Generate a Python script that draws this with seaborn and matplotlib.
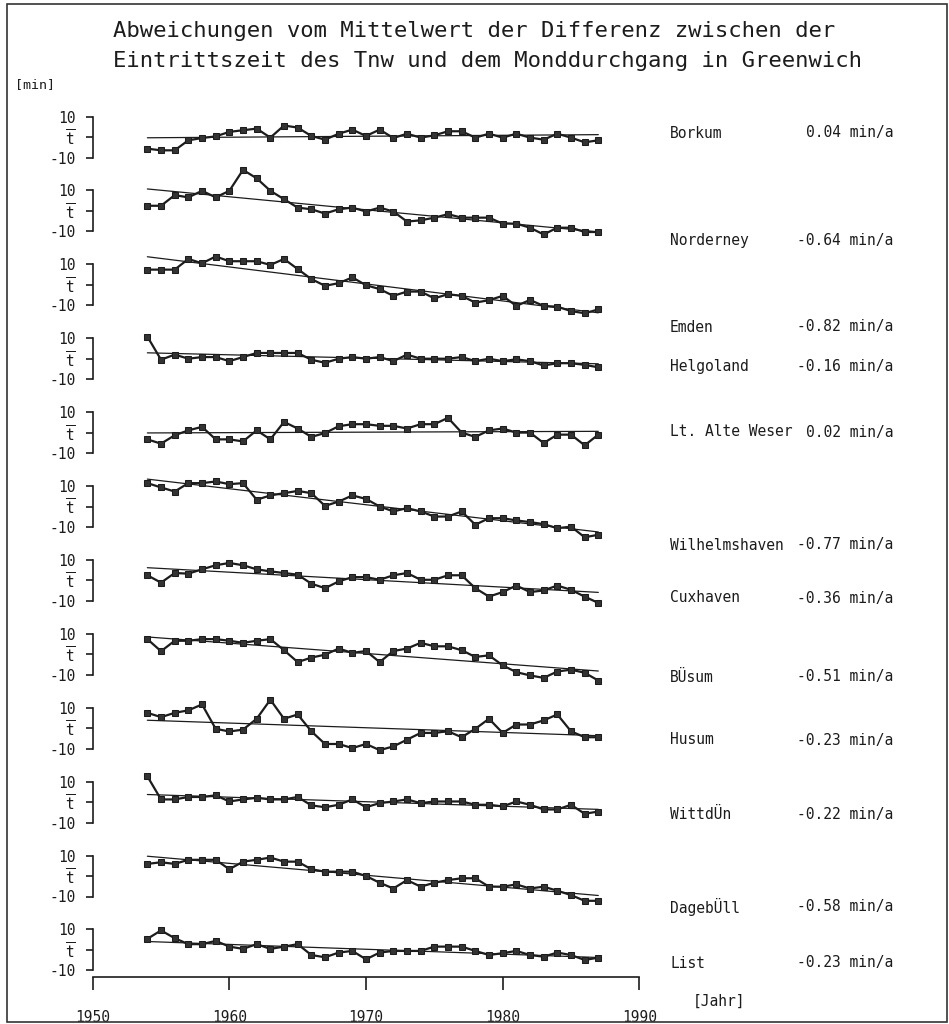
import numpy as np
import pandas as pd
import matplotlib
matplotlib.use("Agg")
import matplotlib.pyplot as plt
import seaborn as sns
from matplotlib.patches import Rectangle

# ---------------- data ----------------
years = list(range(1954, 1988))

borkum = [-5.7, -6.5, -6.5, -1.6, -0.5, 0.3, 2.5, 3.3, 4.1, -0.3, 5.6, 4.6, 0.5, -1.3, 1.6, 3.6, 0.5,
          3.6, -0.5, 1.6, -0.3, 0.8, 2.8, 2.8, -0.3, 1.6, -0.3, 1.6, -0.3, -1.3, 1.6, -0.3, -2.6, -1.6]
norderney = [2.5, 2.5, 7.7, 6.6, 9.8, 6.6, 9.8, 20.0, 15.9, 9.8, 5.7, 1.6, 0.8, -1.3, 0.8, 1.6, -0.3,
             1.6, -0.3, -5.2, -4.6, -3.3, -1.6, -3.3, -3.3, -3.3, -6.2, -6.2, -8.2, -11.5, -8.2, -8.2, -10.3, -10.3]
emden = [7.4, 7.4, 7.4, 12.6, 10.5, 13.8, 11.5, 11.5, 11.5, 9.7, 12.6, 7.7, 2.8, -0.5, 0.8, 3.6, -0.2,
         -2.1, -5.4, -3.3, -3.3, -6.6, -4.6, -5.4, -8.7, -7.5, -5.4, -10.3, -7.4, -10.3, -10.7, -12.8, -13.9, -12.0]
helgoland = [10.8, -0.5, 2.0, 0.0, 0.8, 0.8, -1.2, 0.8, 2.8, 2.8, 2.8, 2.8, -0.5, -2.0, 0.0, 0.8, 0.0,
             0.8, -1.2, 2.0, 0.0, 0.0, 0.0, 0.8, -1.2, 0.0, -1.2, -0.3, -1.2, -3.3, -2.2, -2.2, -3.0, -4.2]
alte_weser = [-3.3, -5.4, -1.3, 1.1, 2.8, -3.3, -3.3, -4.3, 1.1, -3.3, 5.2, 2.0, -2.1, -0.2, 3.1, 4.1, 4.1,
              3.3, 3.3, 2.0, 4.1, 4.1, 7.2, 0.0, -2.1, 1.1, 2.0, 0.0, 0.0, -5.1, -1.0, -1.0, -6.2, -1.0]
wilhelmshaven = [11.4, 9.3, 7.3, 11.4, 11.4, 12.2, 10.9, 11.4, 3.3, 5.4, 6.5, 7.6, 6.5, 0.3, 2.4, 5.4, 3.7,
                 0.0, -2.4, -0.8, -2.4, -4.9, -4.9, -2.4, -8.9, -5.7, -5.7, -6.8, -7.6, -8.6, -10.6, -9.8, -15.0, -13.8]
cuxhaven = [2.5, -1.1, 3.6, 3.3, 5.4, 7.4, 8.5, 7.4, 5.4, 4.4, 3.6, 2.8, -1.6, -3.8, -0.5, 1.6, 1.6,
            0.3, 2.5, 3.6, 0.3, 0.3, 2.5, 2.5, -3.8, -7.9, -5.7, -2.5, -5.7, -4.9, -2.5, -4.6, -7.9, -11.0]
buesum = [7.4, 1.5, 6.6, 6.6, 7.4, 7.4, 6.6, 5.6, 6.6, 7.4, 2.0, -3.8, -1.6, -0.2, 2.8, 0.7, 1.6,
          -3.8, 1.6, 2.8, 5.6, 3.9, 3.9, 2.0, -1.3, -0.5, -5.4, -8.7, -10.3, -11.5, -8.4, -7.5, -9.0, -12.8]
husum = [7.5, 5.4, 7.5, 8.7, 11.6, -0.3, -1.6, -0.7, 4.6, 13.9, 4.6, 6.7, -1.5, -7.7, -7.7, -9.7, -7.7,
         -10.7, -8.9, -5.6, -2.3, -2.3, -1.5, -4.4, -0.3, 4.6, -2.3, 1.8, 1.8, 3.8, 6.7, -1.5, -4.4, -4.4]
wittduen = [12.6, 1.3, 1.3, 2.5, 2.5, 3.3, 0.3, 1.3, 2.1, 1.3, 1.3, 2.5, -1.6, -2.5, -1.3, 1.3, -2.5,
            -0.5, 0.3, 1.3, -0.5, 0.3, 0.3, 0.3, -1.3, -1.3, -2.1, 0.3, -1.3, -3.6, -3.6, -1.3, -5.7, -4.6]
dagebuell = [5.9, 6.7, 5.9, 7.9, 7.9, 7.9, 3.3, 7.0, 7.9, 9.0, 7.0, 7.0, 3.3, 2.1, 2.1, 2.1, 0.0,
             -3.3, -6.1, -2.0, -5.2, -3.3, -2.0, -1.1, -1.1, -5.2, -5.2, -4.1, -6.1, -5.2, -7.2, -9.3, -12.1, -12.1]
list_sylt = [5.4, 9.5, 5.7, 2.8, 2.8, 4.4, 1.6, 0.5, 2.8, 0.5, 1.6, 2.8, -2.5, -3.6, -1.3, -0.5, -4.6,
             -1.3, -0.5, -0.5, -0.5, 1.6, 1.6, 1.6, -0.5, -2.5, -1.6, -0.5, -2.5, -3.3, -1.3, -2.5, -4.9, -3.8]

series = [borkum, norderney, emden, helgoland, alte_weser, wilhelmshaven,
          cuxhaven, buesum, husum, wittduen, dagebuell, list_sylt]
stations = ["Borkum", "Norderney", "Emden", "Helgoland", "Lt. Alte Weser", "Wilhelmshaven",
            "Cuxhaven", "BÜsum", "Husum", "WittdÜn", "DagebÜll", "List"]
rates = ["0.04 min/a", "-0.64 min/a", "-0.82 min/a", "-0.16 min/a", "0.02 min/a", "-0.77 min/a",
         "-0.36 min/a", "-0.51 min/a", "-0.23 min/a", "-0.22 min/a", "-0.58 min/a", "-0.23 min/a"]
ytick_vals = [-10, 0, 10]
ytick_labels = ["-10", r"$\overline{\mathtt{t}}$", "10"]
xtick_vals = [1950, 1960, 1970, 1980, 1990]
title_lines = ["Abweichungen vom Mittelwert der Differenz zwischen der",
               "Eintrittszeit des Tnw und dem Monddurchgang in Greenwich"]

# ---------------- layout (pixels) ----------------
W, H = 949, 1024
X0_PX, X1_PX = 92.7, 639.3
C0_PX, SPACING_PX, PX_PER_UNIT = 137.0, 73.9, 2.05
AXIS_PX = 976.5
label_y_px = [133, 240, 327, 367, 432, 545, 598, 677, 740, 814, 907, 963]
INK = "#1c1c1c"

sns.set_style("white")
plt.rcParams["font.family"] = ["DejaVu Sans Mono", "DejaVu Sans"]
plt.rcParams["mathtext.fontset"] = "dejavusans"

fig = plt.figure(figsize=(W / 100, H / 100), dpi=100)
fig.patch.set_facecolor("white")

half_units = SPACING_PX / 2 / PX_PER_UNIT
n = len(series)
axes = []
for k, vals in enumerate(series):
    c = C0_PX + k * SPACING_PX
    top = c - SPACING_PX / 2
    bot = AXIS_PX if k == n - 1 else c + SPACING_PX / 2
    ax = fig.add_axes([X0_PX / W, 1 - bot / H, (X1_PX - X0_PX) / W, (bot - top) / H])
    ax.set_facecolor("none")
    df = pd.DataFrame({"Jahr": years, "Abw": vals})
    sns.regplot(data=df, x="Jahr", y="Abw", ax=ax, scatter=False, ci=None, truncate=True,
                line_kws=dict(color=INK, lw=0.9, clip_on=False))
    sns.lineplot(data=df, x="Jahr", y="Abw", ax=ax, color=INK, lw=1.6, marker="s",
                 markersize=4.6, markeredgecolor=INK, markerfacecolor="#333333",
                 clip_on=False, legend=False)
    ax.set_xlim(1950, 1990)
    ax.set_ylim(-(bot - c) / PX_PER_UNIT, half_units)
    ax.set_xlabel("")
    ax.set_ylabel("")
    for s in ["top", "right", "bottom"]:
        ax.spines[s].set_visible(False)
    ax.spines["left"].set_bounds(-10, 10)
    ax.spines["left"].set_color(INK)
    ax.spines["left"].set_linewidth(1.2)
    ax.set_yticks(ytick_vals)
    ax.set_yticklabels(ytick_labels)
    ax.tick_params(axis="y", direction="out", length=5, width=1.2, color=INK,
                   pad=7.5, labelsize=10.5, labelcolor=INK, left=True)
    if k == n - 1:
        ax.spines["bottom"].set_visible(True)
        ax.spines["bottom"].set_bounds(1950, 1990)
        ax.spines["bottom"].set_color(INK)
        ax.spines["bottom"].set_linewidth(1.2)
        ax.set_xticks(xtick_vals)
        ax.set_xticklabels([str(v) for v in xtick_vals])
        ax.tick_params(axis="x", direction="out", length=9, width=1.2, color=INK,
                       pad=15, labelsize=10.5, labelcolor=INK, bottom=True)
    else:
        ax.set_xticks([])
    axes.append(ax)
    # station label and trend
    fig.text(670 / W, 1 - label_y_px[k] / H, stations[k], ha="left", va="center",
             fontsize=10.5, color=INK)
    fig.text(893 / W, 1 - label_y_px[k] / H, rates[k], ha="right", va="center",
             fontsize=10.5, color=INK)

fig.text(693 / W, 1 - 1001 / H, "[Jahr]", ha="left", va="center", fontsize=10.5, color=INK)
fig.text(15 / W, 1 - 85 / H, "[min]", ha="left", va="center", fontsize=9.5, color=INK)
fig.text(113 / W, 1 - 37 / H, title_lines[0], ha="left", va="baseline", fontsize=16, color=INK)
fig.text(113 / W, 1 - 67 / H, title_lines[1], ha="left", va="baseline", fontsize=16, color=INK)

fig.add_artist(Rectangle((7 / W, 2 / H), (947 - 7) / W, (1020 - 2) / H, transform=fig.transFigure,
                         fill=False, edgecolor="#333333", lw=1.2))

fig.savefig("out.png", dpi=100, facecolor="white")
